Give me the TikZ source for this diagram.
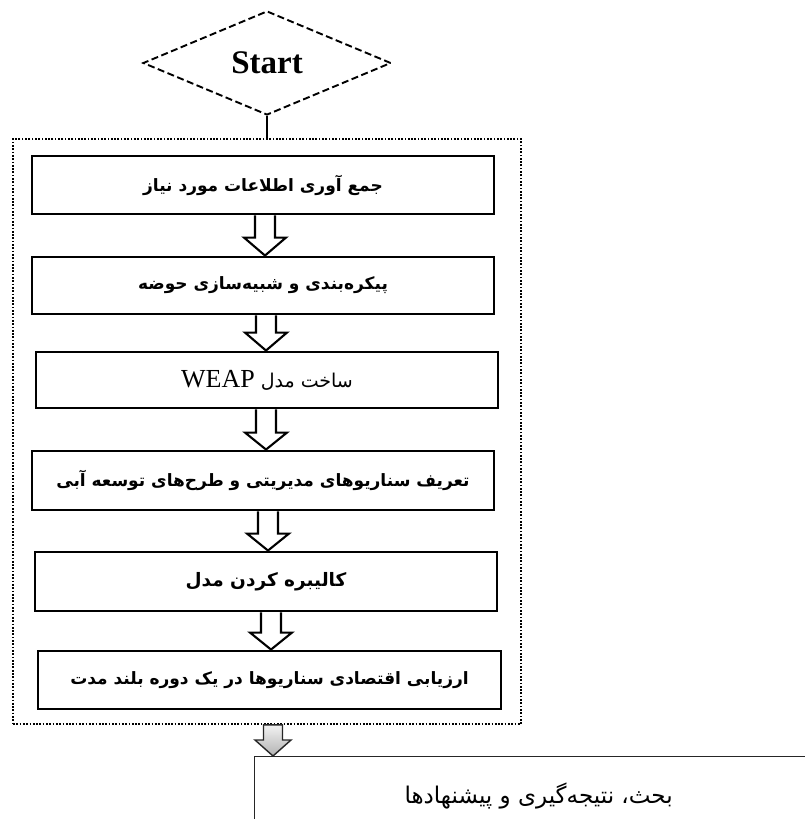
\documentclass[tikz,border=0pt]{standalone}
\usepackage{fontspec}
\setmainfont{Liberation Serif}
\newfontfamily\fa[Script=Arabic]{DejaVu Sans}
\TeXXeTstate=1
\usetikzlibrary{shapes.geometric,calc}
\tikzset{
  stepbox/.style={draw, line width=2.9pt, minimum width=462pt, minimum height=58pt, inner sep=0pt,
    font=\fa\bfseries\fontsize{17}{20}\selectfont},
  hollowarrow/.style={draw, line width=2.1pt, line join=miter},
  grayarrow/.style={draw=black!85, line width=1.4pt, line join=miter, top color=gray!10, bottom color=gray!60},
  framebox/.style={draw, line width=1.7pt, dash pattern=on 1.7pt off 1.6pt},
}
% #1 style, #2 from node, #3 to node, #4 x centre, #5 shaft half, #6 head half, #7 head length
\newcommand\blockarrow[7]{%
  \path[#1] let \p1=(#2.south), \p2=(#3.north), \p3=(#4,0) in
    (\x3-#5pt,\y1) -- (\x3-#5pt,\y2+#7pt) -- (\x3-#6pt,\y2+#7pt) -- (\x3,\y2)
    -- (\x3+#6pt,\y2+#7pt) -- (\x3+#5pt,\y2+#7pt) -- (\x3+#5pt,\y1);}
\newcommand\blockarrowclosed[7]{%
  \path[#1] let \p1=(#2.south), \p2=(#3.north), \p3=(#4,0) in
    (\x3-#5pt,\y1) -- (\x3-#5pt,\y2+#7pt) -- (\x3-#6pt,\y2+#7pt) -- (\x3,\y2)
    -- (\x3+#6pt,\y2+#7pt) -- (\x3+#5pt,\y2+#7pt) -- (\x3+#5pt,\y1) -- cycle;}
\begin{document}
\begin{tikzpicture}[x=1pt,y=-1pt]
\clip (0,0) rectangle (805,819);

\node[diamond, draw, line width=1.9pt, dash pattern=on 7pt off 3.5pt, minimum width=248pt, minimum height=104pt,
  inner sep=0pt, font=\bfseries\fontsize{33}{36}\selectfont] (start) at (267,63) {Start};

\node[framebox, minimum width=508pt, minimum height=585pt, inner sep=0pt] (frame) at (267,431.5) {};
\draw[line width=1.4pt] (start.south) -- (frame.north);

\node[stepbox] (b1) at (263,185) {\beginR جمع آوری اطلاعات مورد نیاز\endR};
\node[stepbox, minimum height=57pt] (b2) at (263,285.5) {\beginR پیکره‌بندی و شبیه‌سازی حوضه\endR};
\node[stepbox, minimum height=56pt, font=\fa\fontsize{19}{22}\selectfont] (b3) at (267,380)
  {\beginR ساخت مدل \beginL{\rmfamily\fontsize{26}{28}\selectfont WEAP}\endL\endR};
\node[stepbox, minimum height=59pt] (b4) at (263,480.5) {\beginR تعریف سناریوهای مدیریتی و طرح‌های توسعه آبی\endR};
\node[stepbox, minimum height=59pt, font=\fa\bfseries\fontsize{18.5}{21}\selectfont] (b5) at (266,581.5) {\beginR کالیبره کردن مدل\endR};
\node[stepbox, minimum width=463pt] (b6) at (269.5,680) {\beginR ارزیابی اقتصادی سناریوها در یک دوره بلند مدت\endR};

\node[draw=black!85, line width=1.3pt, minimum width=568pt, minimum height=78pt, inner sep=0pt,
  anchor=north west, font=\fa\fontsize{23}{26}\selectfont] (concl) at (254,756)
  {\beginR بحث، نتیجه‌گیری و پیشنهادها\endR};

\blockarrow{hollowarrow}{b1}{b2}{265}{10}{21}{18}
\blockarrow{hollowarrow}{b2}{b3}{266}{10}{21}{18}
\blockarrow{hollowarrow}{b3}{b4}{266}{10}{21}{17}
\blockarrow{hollowarrow}{b4}{b5}{268}{10}{21}{17}
\blockarrow{hollowarrow}{b5}{b6}{271}{10}{21}{17}
\blockarrowclosed{grayarrow}{frame}{concl}{273}{9.5}{18}{16}
\end{tikzpicture}
\end{document}
